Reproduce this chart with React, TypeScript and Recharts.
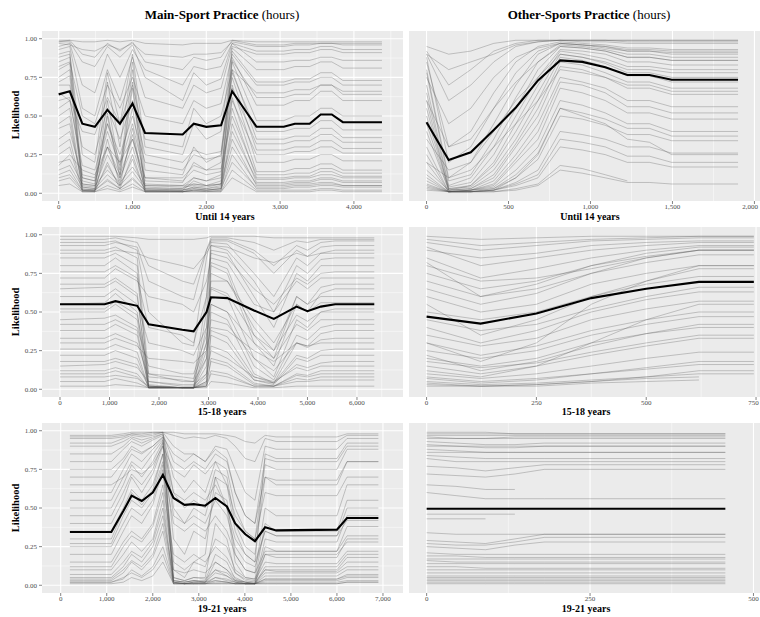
import { CartesianGrid, Line, LineChart, XAxis, YAxis } from "recharts";

// ---- Main-Sport, until 14 years ----
const mainU14X = [0, 150, 320, 490, 660, 830, 1000, 1170, 1680, 1830, 2000, 2200, 2350, 2680, 3050, 3200, 3400, 3550, 3700, 3850, 4380];
const mainU14Mean = [0.64, 0.66, 0.45, 0.43, 0.54, 0.45, 0.58, 0.39, 0.38, 0.45, 0.43, 0.44, 0.66, 0.43, 0.43, 0.45, 0.45, 0.51, 0.51, 0.46, 0.46];
const mainU14Lines = [
  [0.99, 0.99, 0.98, 0.98, 0.99, 0.98, 0.99, 0.97, 0.96, 0.97, 0.97, 0.97, 0.99, 0.98, 0.98, 0.98, 0.98, 0.98, 0.98, 0.98, 0.98],
  [0.97, 0.96, 0.93, 0.92, 0.96, 0.93, 0.97, 0.9, 0.88, 0.9, 0.9, 0.91, 0.98, 0.95, 0.95, 0.96, 0.96, 0.97, 0.97, 0.96, 0.96],
  [0.93, 0.95, 0.55, 0.5, 0.8, 0.6, 0.88, 0.62, 0.55, 0.7, 0.65, 0.68, 0.95, 0.9, 0.9, 0.91, 0.91, 0.93, 0.93, 0.91, 0.91],
  [0.9, 0.92, 0.1, 0.08, 0.72, 0.3, 0.85, 0.15, 0.12, 0.3, 0.2, 0.25, 0.92, 0.72, 0.72, 0.74, 0.74, 0.78, 0.78, 0.73, 0.73],
  [0.85, 0.88, 0.06, 0.05, 0.6, 0.15, 0.8, 0.08, 0.07, 0.2, 0.15, 0.2, 0.88, 0.57, 0.57, 0.6, 0.6, 0.66, 0.66, 0.6, 0.6],
  [0.8, 0.84, 0.04, 0.03, 0.5, 0.1, 0.68, 0.03, 0.03, 0.1, 0.08, 0.12, 0.85, 0.47, 0.47, 0.5, 0.5, 0.55, 0.55, 0.5, 0.5],
  [0.75, 0.8, 0.08, 0.06, 0.45, 0.2, 0.55, 0.05, 0.04, 0.05, 0.04, 0.06, 0.8, 0.35, 0.35, 0.37, 0.37, 0.42, 0.42, 0.36, 0.36],
  [0.7, 0.7, 0.3, 0.25, 0.55, 0.35, 0.6, 0.25, 0.2, 0.28, 0.25, 0.27, 0.75, 0.28, 0.28, 0.3, 0.3, 0.34, 0.34, 0.29, 0.29],
  [0.6, 0.62, 0.12, 0.1, 0.4, 0.18, 0.45, 0.1, 0.08, 0.15, 0.12, 0.14, 0.7, 0.2, 0.2, 0.22, 0.22, 0.25, 0.25, 0.21, 0.21],
  [0.5, 0.55, 0.03, 0.02, 0.3, 0.08, 0.38, 0.02, 0.02, 0.04, 0.03, 0.05, 0.62, 0.14, 0.14, 0.16, 0.16, 0.19, 0.19, 0.15, 0.15],
  [0.42, 0.45, 0.05, 0.04, 0.25, 0.1, 0.3, 0.04, 0.03, 0.06, 0.05, 0.06, 0.55, 0.1, 0.1, 0.11, 0.11, 0.14, 0.14, 0.11, 0.11],
  [0.3, 0.35, 0.02, 0.02, 0.18, 0.05, 0.22, 0.01, 0.01, 0.02, 0.02, 0.03, 0.45, 0.07, 0.07, 0.08, 0.08, 0.1, 0.1, 0.08, 0.08],
  [0.2, 0.22, 0.06, 0.05, 0.15, 0.07, 0.17, 0.05, 0.05, 0.06, 0.05, 0.06, 0.35, 0.05, 0.05, 0.06, 0.06, 0.07, 0.07, 0.05, 0.05],
  [0.12, 0.15, 0.02, 0.02, 0.09, 0.03, 0.1, 0.02, 0.01, 0.02, 0.02, 0.02, 0.25, 0.03, 0.03, 0.04, 0.04, 0.05, 0.05, 0.04, 0.04],
  [0.08, 0.1, 0.01, 0.01, 0.05, 0.02, 0.06, 0.01, 0.01, 0.01, 0.01, 0.01, 0.15, 0.02, 0.02, 0.02, 0.02, 0.03, 0.03, 0.02, 0.02],
  [0.95, 0.97, 0.7, 0.65, 0.9, 0.75, 0.93, 0.8, 0.7, 0.82, 0.8, 0.82, 0.97, 0.85, 0.85, 0.86, 0.86, 0.88, 0.88, 0.86, 0.86],
  [0.65, 0.6, 0.4, 0.38, 0.62, 0.45, 0.7, 0.35, 0.3, 0.55, 0.45, 0.5, 0.8, 0.65, 0.65, 0.67, 0.67, 0.7, 0.7, 0.66, 0.66],
  [0.18, 0.25, 0.15, 0.12, 0.3, 0.2, 0.35, 0.1, 0.1, 0.18, 0.15, 0.16, 0.5, 0.12, 0.12, 0.13, 0.13, 0.16, 0.16, 0.13, 0.13],
  [0.98, 0.98, 0.85, 0.82, 0.95, 0.88, 0.96, 0.75, 0.6, 0.78, 0.7, 0.74, 0.97, 0.92, 0.92, 0.93, 0.93, 0.95, 0.95, 0.93, 0.93],
  [0.88, 0.9, 0.25, 0.2, 0.78, 0.45, 0.9, 0.3, 0.25, 0.45, 0.35, 0.4, 0.94, 0.8, 0.8, 0.82, 0.82, 0.85, 0.85, 0.81, 0.81],
  [0.72, 0.76, 0.02, 0.02, 0.52, 0.12, 0.72, 0.02, 0.02, 0.08, 0.05, 0.08, 0.86, 0.62, 0.62, 0.64, 0.64, 0.7, 0.7, 0.64, 0.64],
  [0.55, 0.6, 0.18, 0.15, 0.45, 0.25, 0.5, 0.2, 0.15, 0.25, 0.22, 0.24, 0.78, 0.4, 0.4, 0.42, 0.42, 0.47, 0.47, 0.41, 0.41],
  [0.45, 0.5, 0.02, 0.01, 0.35, 0.05, 0.42, 0.01, 0.01, 0.03, 0.02, 0.03, 0.68, 0.32, 0.32, 0.34, 0.34, 0.38, 0.38, 0.33, 0.33],
  [0.35, 0.4, 0.1, 0.08, 0.3, 0.12, 0.35, 0.06, 0.05, 0.1, 0.08, 0.1, 0.6, 0.25, 0.25, 0.27, 0.27, 0.3, 0.3, 0.26, 0.26],
  [0.25, 0.3, 0.01, 0.01, 0.2, 0.03, 0.25, 0.01, 0.01, 0.02, 0.01, 0.02, 0.4, 0.09, 0.09, 0.1, 0.1, 0.12, 0.12, 0.1, 0.1],
  [0.15, 0.18, 0.04, 0.03, 0.12, 0.05, 0.14, 0.03, 0.02, 0.04, 0.03, 0.04, 0.3, 0.06, 0.06, 0.07, 0.07, 0.09, 0.09, 0.07, 0.07],
  [0.1, 0.12, 0.02, 0.02, 0.08, 0.03, 0.09, 0.02, 0.02, 0.03, 0.02, 0.03, 0.2, 0.04, 0.04, 0.05, 0.05, 0.06, 0.06, 0.05, 0.05],
  [0.98, 0.99, 0.9, 0.88, 0.97, 0.92, 0.98, 0.85, 0.8, 0.88, 0.86, 0.88, 0.99, 0.96, 0.96, 0.97, 0.97, 0.97, 0.97, 0.97, 0.97],
  [0.82, 0.85, 0.5, 0.45, 0.7, 0.55, 0.75, 0.5, 0.45, 0.6, 0.55, 0.58, 0.9, 0.7, 0.7, 0.72, 0.72, 0.75, 0.75, 0.7, 0.7],
  [0.05, 0.06, 0.01, 0.01, 0.03, 0.01, 0.04, 0.01, 0.01, 0.01, 0.01, 0.01, 0.1, 0.01, 0.01, 0.01, 0.01, 0.02, 0.02, 0.01, 0.01],
];

// ---- Other-Sports, until 14 years ----
const otherU14X = [0, 135, 270, 410, 545, 680, 815, 950, 1090, 1225, 1360, 1495, 1900];
const otherU14Mean = [0.46, 0.215, 0.265, 0.41, 0.555, 0.73, 0.86, 0.85, 0.815, 0.765, 0.765, 0.735, 0.735];
const otherU14Lines = [
  [0.95, 0.9, 0.92, 0.97, 0.99, 0.99, 0.99, 0.99, 0.99, 0.99, 0.99, 0.99, 0.99],
  [0.9, 0.6, 0.7, 0.85, 0.95, 0.98, 0.99, 0.98, 0.98, 0.97, 0.97, 0.97, 0.97],
  [0.85, 0.3, 0.4, 0.65, 0.85, 0.95, 0.98, 0.97, 0.96, 0.94, 0.94, 0.93, 0.93],
  [0.8, 0.1, 0.2, 0.45, 0.7, 0.9, 0.97, 0.96, 0.94, 0.92, 0.92, 0.9, 0.9],
  [0.7, 0.05, 0.1, 0.3, 0.55, 0.8, 0.95, 0.94, 0.92, 0.88, 0.88, 0.86, 0.86],
  [0.6, 0.02, 0.05, 0.2, 0.45, 0.7, 0.92, 0.9, 0.87, 0.82, 0.82, 0.8, 0.8],
  [0.5, 0.03, 0.04, 0.15, 0.35, 0.6, 0.88, 0.86, 0.82, 0.76, 0.76, 0.72, 0.72],
  [0.4, 0.02, 0.03, 0.1, 0.3, 0.5, 0.82, 0.8, 0.75, 0.68, 0.68, 0.64, 0.64],
  [0.3, 0.01, 0.02, 0.08, 0.25, 0.45, 0.75, 0.72, 0.68, 0.6, 0.6, 0.56, 0.56],
  [0.2, 0.01, 0.02, 0.05, 0.2, 0.35, 0.68, 0.65, 0.6, 0.52, 0.52, 0.48, 0.48],
  [0.15, 0.02, 0.02, 0.04, 0.15, 0.3, 0.6, 0.57, 0.52, 0.45, 0.45, 0.4, 0.4],
  [0.1, 0.01, 0.01, 0.03, 0.1, 0.22, 0.5, 0.48, 0.44, 0.38, 0.38, 0.34, 0.34],
  [0.08, 0.01, 0.01, 0.02, 0.07, 0.15, 0.4, 0.38, 0.35, 0.3, 0.3, 0.26, 0.26],
  [0.05, 0.01, 0.01, 0.02, 0.05, 0.1, 0.3, 0.28, 0.25, 0.2, 0.2, 0.17, 0.17],
  [0.04, 0.01, 0.01, 0.01, 0.03, 0.06, 0.18, 0.16, 0.12, 0.08, null, null, null],
  [0.9, 0.8, 0.85, 0.9, 0.96, 0.98, 0.99, 0.99, 0.99, 0.99, 0.99, 0.99, 0.99],
  [0.75, 0.45, 0.55, 0.75, 0.88, 0.94, 0.97, 0.96, 0.95, 0.93, 0.93, 0.92, 0.92],
  [0.02, 0.01, 0.01, 0.02, 0.1, 0.25, 0.55, 0.5, 0.45, 0.35, 0.33, 0.25, 0.25],
  [0.35, 0.15, 0.2, 0.4, 0.6, 0.75, 0.9, 0.88, 0.85, 0.8, 0.8, 0.78, 0.78],
  [0.92, 0.7, 0.8, 0.92, 0.97, 0.99, 0.99, 0.99, 0.99, 0.98, 0.98, 0.98, 0.98],
  [0.88, 0.2, 0.3, 0.55, 0.78, 0.92, 0.97, 0.96, 0.95, 0.92, 0.92, 0.91, 0.91],
  [0.78, 0.08, 0.12, 0.35, 0.62, 0.85, 0.96, 0.95, 0.93, 0.9, 0.9, 0.88, 0.88],
  [0.65, 0.04, 0.07, 0.25, 0.5, 0.75, 0.93, 0.92, 0.9, 0.85, 0.85, 0.83, 0.83],
  [0.55, 0.03, 0.05, 0.18, 0.4, 0.65, 0.9, 0.88, 0.84, 0.78, 0.78, 0.75, 0.75],
  [0.45, 0.02, 0.03, 0.12, 0.32, 0.55, 0.85, 0.83, 0.78, 0.72, 0.72, 0.68, 0.68],
  [0.25, 0.01, 0.02, 0.06, 0.22, 0.4, 0.72, 0.7, 0.65, 0.56, 0.56, 0.52, 0.52],
  [0.12, 0.01, 0.02, 0.03, 0.12, 0.26, 0.55, 0.52, 0.48, 0.42, 0.42, 0.37, 0.37],
  [0.06, 0.01, 0.01, 0.02, 0.06, 0.12, 0.35, 0.33, 0.3, 0.24, 0.24, 0.2, 0.2],
  [0.03, 0.01, 0.01, 0.01, 0.02, 0.05, 0.15, 0.13, 0.1, 0.07, 0.07, 0.06, 0.06],
  [0.6, 0.3, 0.35, 0.55, 0.72, 0.85, 0.95, 0.94, 0.92, 0.88, 0.88, 0.86, 0.86],
  [0.2, 0.1, 0.15, 0.3, 0.45, 0.6, 0.8, 0.78, 0.75, 0.7, 0.7, 0.66, 0.66],
];

// ---- Main-Sport, 15-18 years ----
const main1518X = [0, 900, 1120, 1560, 1790, 2470, 2700, 2960, 3050, 3380, 3920, 4320, 4780, 5000, 5270, 5560, 6350];
const main1518Mean = [0.55, 0.55, 0.57, 0.54, 0.42, 0.385, 0.375, 0.5, 0.595, 0.59, 0.51, 0.455, 0.535, 0.505, 0.535, 0.55, 0.55];
const main1518Lines = [
  [0.99, 0.99, 0.99, 0.98, 0.97, 0.97, 0.97, 0.98, 0.99, 0.99, 0.99, 0.98, 0.98, 0.98, 0.98, 0.98, 0.98],
  [0.95, 0.95, 0.96, 0.9, 0.5, 0.3, 0.28, 0.85, 0.97, 0.97, 0.9, 0.8, 0.93, 0.9, 0.95, 0.96, 0.96],
  [0.9, 0.9, 0.92, 0.85, 0.1, 0.05, 0.05, 0.6, 0.95, 0.94, 0.75, 0.6, 0.85, 0.8, 0.88, 0.9, 0.9],
  [0.8, 0.8, 0.85, 0.75, 0.05, 0.02, 0.02, 0.4, 0.9, 0.88, 0.6, 0.4, 0.75, 0.7, 0.8, 0.8, 0.8],
  [0.72, 0.72, 0.78, 0.7, 0.6, 0.55, 0.5, 0.7, 0.85, 0.82, 0.55, 0.5, 0.7, 0.65, 0.72, 0.72, 0.72],
  [0.65, 0.66, 0.7, 0.6, 0.03, 0.01, 0.01, 0.3, 0.8, 0.75, 0.3, 0.15, 0.55, 0.5, 0.62, 0.65, 0.65],
  [0.6, 0.6, 0.65, 0.55, 0.3, 0.25, 0.22, 0.4, 0.7, 0.7, 0.4, 0.25, 0.6, 0.55, 0.6, 0.6, 0.6],
  [0.5, 0.5, 0.55, 0.45, 0.02, 0.01, 0.01, 0.2, 0.65, 0.6, 0.2, 0.08, 0.45, 0.4, 0.5, 0.5, 0.5],
  [0.45, 0.46, 0.48, 0.4, 0.15, 0.1, 0.1, 0.35, 0.55, 0.5, 0.3, 0.2, 0.42, 0.38, 0.45, 0.45, 0.45],
  [0.38, 0.38, 0.42, 0.35, 0.02, 0.01, 0.01, 0.1, 0.5, 0.45, 0.1, 0.04, 0.3, 0.28, 0.36, 0.38, 0.38],
  [0.3, 0.3, 0.33, 0.28, 0.2, 0.18, 0.17, 0.25, 0.4, 0.38, 0.25, 0.18, 0.3, 0.28, 0.3, 0.3, 0.3],
  [0.22, 0.22, 0.25, 0.2, 0.01, 0.01, 0.01, 0.05, 0.35, 0.3, 0.06, 0.03, 0.2, 0.18, 0.22, 0.22, 0.22],
  [0.15, 0.16, 0.18, 0.14, 0.05, 0.03, 0.03, 0.1, 0.25, 0.2, 0.08, 0.05, 0.14, 0.12, 0.15, 0.15, 0.15],
  [0.1, 0.1, 0.12, 0.08, 0.01, 0.01, 0.01, 0.03, 0.18, 0.15, 0.03, 0.02, 0.09, 0.08, 0.1, 0.1, 0.1],
  [0.05, 0.05, 0.07, 0.04, 0.01, 0.01, 0.01, 0.02, 0.1, 0.08, 0.02, 0.02, 0.05, 0.05, 0.06, 0.06, 0.06],
  [0.02, 0.02, 0.03, 0.02, 0.01, 0.01, 0.01, 0.01, 0.05, 0.04, 0.01, 0.01, 0.02, 0.02, 0.02, 0.02, 0.02],
  [0.88, 0.88, 0.9, 0.88, 0.85, 0.8, 0.78, 0.88, 0.93, 0.92, 0.85, 0.82, 0.88, 0.86, 0.88, 0.88, 0.88],
  [0.55, 0.56, 0.62, 0.5, 0.01, 0.01, 0.01, 0.15, 0.75, 0.7, 0.45, 0.3, 0.55, 0.5, 0.56, 0.56, 0.56],
  [0.97, 0.97, 0.98, 0.95, 0.8, 0.7, 0.68, 0.9, 0.98, 0.98, 0.95, 0.9, 0.96, 0.95, 0.97, 0.97, 0.97],
  [0.85, 0.85, 0.88, 0.8, 0.02, 0.01, 0.01, 0.5, 0.93, 0.9, 0.7, 0.5, 0.8, 0.75, 0.84, 0.85, 0.85],
  [0.76, 0.76, 0.8, 0.72, 0.4, 0.35, 0.3, 0.6, 0.88, 0.85, 0.65, 0.55, 0.72, 0.68, 0.75, 0.76, 0.76],
  [0.68, 0.68, 0.72, 0.62, 0.01, 0.01, 0.01, 0.25, 0.82, 0.78, 0.35, 0.2, 0.6, 0.55, 0.66, 0.68, 0.68],
  [0.52, 0.52, 0.57, 0.48, 0.1, 0.08, 0.07, 0.3, 0.66, 0.62, 0.35, 0.25, 0.48, 0.44, 0.5, 0.52, 0.52],
  [0.42, 0.42, 0.45, 0.38, 0.01, 0.01, 0.01, 0.08, 0.55, 0.5, 0.15, 0.06, 0.35, 0.32, 0.4, 0.42, 0.42],
  [0.33, 0.33, 0.36, 0.3, 0.08, 0.06, 0.05, 0.2, 0.45, 0.42, 0.2, 0.12, 0.3, 0.27, 0.32, 0.33, 0.33],
  [0.26, 0.26, 0.29, 0.24, 0.01, 0.01, 0.01, 0.04, 0.38, 0.34, 0.08, 0.04, 0.22, 0.2, 0.25, 0.26, 0.26],
  [0.18, 0.18, 0.2, 0.16, 0.02, 0.01, 0.01, 0.05, 0.28, 0.24, 0.06, 0.04, 0.16, 0.14, 0.17, 0.18, 0.18],
  [0.12, 0.12, 0.14, 0.1, 0.01, 0.01, 0.01, 0.02, 0.2, 0.17, 0.04, 0.02, 0.1, 0.09, 0.12, 0.12, 0.12],
  [0.08, 0.08, 0.09, 0.07, 0.02, 0.01, 0.01, 0.02, 0.12, 0.1, 0.02, 0.02, 0.07, 0.06, 0.08, 0.08, 0.08],
  [0.93, 0.93, 0.95, 0.92, 0.7, 0.6, 0.58, 0.9, 0.96, 0.96, 0.88, 0.75, 0.9, 0.86, 0.92, 0.93, 0.93],
];

// ---- Other-Sports, 15-18 years ----
const other1518X = [0, 123, 250, 375, 500, 620, 745];
const other1518Mean = [0.47, 0.425, 0.49, 0.59, 0.65, 0.695, 0.695];
const other1518Lines = [
  [0.99, 0.97, 0.98, 0.99, 0.99, 0.99, 0.99],
  [0.95, 0.9, 0.93, 0.96, 0.97, 0.98, 0.98],
  [0.9, 0.85, 0.88, 0.93, 0.95, 0.96, 0.96],
  [0.85, 0.72, 0.78, 0.85, 0.9, 0.93, 0.93],
  [0.8, 0.7, 0.72, 0.78, 0.85, 0.9, 0.9],
  [0.7, 0.6, 0.65, 0.75, 0.82, 0.87, 0.87],
  [0.6, 0.5, 0.55, 0.68, 0.75, 0.8, 0.8],
  [0.5, 0.45, 0.5, 0.6, 0.68, 0.73, 0.73],
  [0.4, 0.3, 0.38, 0.5, 0.58, 0.63, 0.63],
  [0.35, 0.28, 0.33, 0.45, 0.52, 0.57, 0.57],
  [0.25, 0.2, 0.25, 0.35, 0.42, 0.47, 0.47],
  [0.2, 0.15, 0.2, 0.3, 0.36, 0.4, 0.4],
  [0.15, 0.1, 0.15, 0.22, 0.28, 0.33, 0.33],
  [0.1, 0.07, 0.1, 0.15, 0.2, 0.24, 0.24],
  [0.08, 0.05, 0.07, 0.1, 0.13, 0.16, 0.16],
  [0.05, 0.03, 0.04, 0.06, 0.08, 0.1, 0.1],
  [0.02, 0.02, 0.02, 0.04, 0.05, 0.06, null],
  [0.3, 0.18, 0.3, 0.55, 0.7, 0.8, 0.8],
  [0.12, 0.08, 0.15, 0.3, 0.45, 0.55, 0.55],
  [0.65, 0.55, 0.62, 0.75, 0.85, 0.9, 0.9],
  [0.97, 0.93, 0.95, 0.97, 0.98, 0.99, 0.99],
  [0.92, 0.8, 0.85, 0.9, 0.93, 0.95, 0.95],
  [0.82, 0.6, 0.68, 0.8, 0.88, 0.92, 0.92],
  [0.75, 0.65, 0.7, 0.8, 0.86, 0.9, 0.9],
  [0.55, 0.35, 0.45, 0.6, 0.7, 0.78, 0.78],
  [0.45, 0.38, 0.42, 0.52, 0.6, 0.66, 0.66],
  [0.3, 0.22, 0.28, 0.38, 0.45, 0.5, 0.5],
  [0.22, 0.12, 0.18, 0.28, 0.36, 0.42, 0.42],
  [0.18, 0.14, 0.17, 0.24, 0.3, 0.35, 0.35],
  [0.07, 0.04, 0.06, 0.1, 0.14, 0.18, 0.18],
  [0.04, 0.02, 0.03, 0.05, 0.07, 0.08, null],
  [0.03, 0.02, 0.03, 0.05, 0.08, 0.12, 0.12],
];

// ---- Main-Sport, 19-21 years ----
const main1921X = [200, 1100, 1360, 1540, 1760, 2000, 2220, 2450, 2690, 2890, 3140, 3360, 3610, 3790, 4010, 4220, 4440, 4680, 6000, 6220, 6900];
const main1921Mean = [0.345, 0.345, 0.48, 0.58, 0.545, 0.6, 0.715, 0.565, 0.52, 0.525, 0.515, 0.565, 0.51, 0.4, 0.33, 0.285, 0.375, 0.355, 0.36, 0.435, 0.435];
const main1921Lines = [
  [0.97, 0.97, 0.98, 0.99, 0.99, 0.99, 0.99, 0.99, 0.98, 0.98, 0.98, 0.98, 0.97, 0.96, 0.93, 0.92, 0.97, 0.96, 0.96, 0.98, 0.98],
  [0.95, 0.95, 0.96, 0.98, 0.97, 0.98, 0.99, 0.9, 0.85, 0.85, 0.8, 0.9, 0.88, 0.75, 0.6, 0.55, 0.9, 0.88, 0.88, 0.95, 0.95],
  [0.8, 0.8, 0.88, 0.93, 0.9, 0.94, 0.97, 0.6, 0.5, 0.55, 0.5, 0.75, 0.7, 0.4, 0.25, 0.2, 0.7, 0.65, 0.65, 0.8, 0.8],
  [0.7, 0.7, 0.8, 0.88, 0.85, 0.9, 0.96, 0.3, 0.2, 0.35, 0.3, 0.6, 0.55, 0.2, 0.1, 0.08, 0.5, 0.45, 0.45, 0.65, 0.65],
  [0.6, 0.6, 0.75, 0.85, 0.8, 0.88, 0.95, 0.1, 0.05, 0.15, 0.2, 0.7, 0.5, 0.15, 0.05, 0.04, 0.4, 0.35, 0.35, 0.55, 0.55],
  [0.5, 0.5, 0.65, 0.78, 0.7, 0.8, 0.93, 0.05, 0.03, 0.05, 0.05, 0.4, 0.3, 0.08, 0.03, 0.02, 0.3, 0.28, 0.28, 0.45, 0.45],
  [0.4, 0.4, 0.55, 0.7, 0.6, 0.72, 0.9, 0.6, 0.55, 0.6, 0.55, 0.65, 0.5, 0.3, 0.2, 0.15, 0.35, 0.32, 0.32, 0.42, 0.42],
  [0.35, 0.35, 0.5, 0.62, 0.55, 0.65, 0.85, 0.03, 0.02, 0.03, 0.03, 0.2, 0.15, 0.04, 0.02, 0.01, 0.2, 0.18, 0.18, 0.3, 0.3],
  [0.27, 0.27, 0.45, 0.55, 0.5, 0.6, 0.8, 0.4, 0.35, 0.4, 0.35, 0.45, 0.35, 0.2, 0.1, 0.08, 0.22, 0.22, 0.22, 0.32, 0.32],
  [0.2, 0.2, 0.35, 0.45, 0.4, 0.52, 0.75, 0.02, 0.01, 0.02, 0.02, 0.1, 0.08, 0.03, 0.02, 0.01, 0.12, 0.12, 0.12, 0.2, 0.2],
  [0.15, 0.15, 0.28, 0.35, 0.3, 0.4, 0.65, 0.2, 0.15, 0.2, 0.15, 0.25, 0.18, 0.08, 0.04, 0.03, 0.15, 0.14, 0.14, 0.22, 0.22],
  [0.1, 0.1, 0.2, 0.28, 0.22, 0.3, 0.55, 0.02, 0.01, 0.01, 0.01, 0.05, 0.04, 0.02, 0.01, 0.01, 0.08, 0.08, 0.08, 0.12, 0.12],
  [0.05, 0.05, 0.12, 0.2, 0.15, 0.25, 0.45, 0.05, 0.03, 0.05, 0.04, 0.1, 0.06, 0.03, 0.02, 0.01, 0.06, 0.06, 0.06, 0.1, 0.1],
  [0.03, 0.03, 0.08, 0.15, 0.1, 0.18, 0.35, 0.01, 0.01, 0.01, 0.01, 0.02, 0.02, 0.01, 0.01, 0.01, 0.03, 0.03, 0.03, 0.05, 0.05],
  [0.02, 0.02, 0.04, 0.1, 0.06, 0.12, 0.25, 0.02, 0.01, 0.02, 0.02, 0.03, 0.02, 0.01, 0.01, 0.01, 0.02, 0.02, 0.02, 0.03, 0.03],
  [0.01, 0.01, 0.02, 0.05, 0.03, 0.06, 0.15, 0.01, 0.01, 0.01, 0.01, 0.01, 0.01, 0.01, 0.01, 0.01, 0.01, 0.01, 0.01, 0.02, 0.02],
  [0.9, 0.9, 0.93, 0.96, 0.94, 0.96, 0.98, 0.8, 0.75, 0.8, 0.75, 0.85, 0.8, 0.6, 0.45, 0.4, 0.82, 0.8, 0.8, 0.9, 0.9],
  [0.65, 0.65, 0.7, 0.75, 0.72, 0.78, 0.9, 0.75, 0.7, 0.78, 0.72, 0.8, 0.65, 0.45, 0.35, 0.3, 0.6, 0.58, 0.58, 0.7, 0.7],
  [0.96, 0.96, 0.97, 0.98, 0.98, 0.99, 0.99, 0.97, 0.95, 0.96, 0.95, 0.97, 0.95, 0.9, 0.82, 0.8, 0.95, 0.93, 0.93, 0.97, 0.97],
  [0.85, 0.85, 0.9, 0.95, 0.92, 0.95, 0.98, 0.7, 0.6, 0.68, 0.6, 0.8, 0.75, 0.5, 0.35, 0.3, 0.78, 0.75, 0.75, 0.88, 0.88],
  [0.55, 0.55, 0.7, 0.8, 0.75, 0.85, 0.94, 0.45, 0.4, 0.45, 0.4, 0.55, 0.45, 0.25, 0.15, 0.12, 0.35, 0.32, 0.32, 0.5, 0.5],
  [0.45, 0.45, 0.6, 0.72, 0.65, 0.75, 0.92, 0.02, 0.01, 0.02, 0.02, 0.15, 0.1, 0.03, 0.01, 0.01, 0.25, 0.22, 0.22, 0.38, 0.38],
  [0.3, 0.3, 0.48, 0.6, 0.52, 0.62, 0.85, 0.15, 0.1, 0.15, 0.12, 0.3, 0.25, 0.1, 0.05, 0.04, 0.2, 0.2, 0.2, 0.28, 0.28],
  [0.25, 0.25, 0.4, 0.5, 0.45, 0.55, 0.78, 0.03, 0.02, 0.03, 0.02, 0.08, 0.06, 0.02, 0.01, 0.01, 0.1, 0.1, 0.1, 0.18, 0.18],
  [0.12, 0.12, 0.25, 0.32, 0.28, 0.38, 0.6, 0.1, 0.08, 0.1, 0.08, 0.15, 0.1, 0.05, 0.02, 0.02, 0.1, 0.09, 0.09, 0.15, 0.15],
  [0.07, 0.07, 0.15, 0.22, 0.18, 0.28, 0.5, 0.01, 0.01, 0.01, 0.01, 0.03, 0.02, 0.01, 0.01, 0.01, 0.04, 0.04, 0.04, 0.07, 0.07],
  [0.04, 0.04, 0.1, 0.16, 0.12, 0.2, 0.4, 0.03, 0.02, 0.03, 0.02, 0.05, 0.03, 0.02, 0.01, 0.01, 0.04, 0.04, 0.04, 0.06, 0.06],
  [0.02, 0.02, 0.05, 0.08, 0.05, 0.1, 0.2, 0.01, 0.01, 0.01, 0.01, 0.01, 0.01, 0.01, 0.01, 0.01, 0.01, 0.01, 0.01, 0.02, 0.02],
  [0.75, 0.75, 0.82, 0.9, 0.86, 0.9, 0.96, 0.85, 0.8, 0.85, 0.8, 0.88, 0.82, 0.6, 0.45, 0.4, 0.7, 0.68, 0.68, 0.8, 0.8],
  [0.92, 0.92, 0.95, 0.97, 0.96, 0.97, 0.99, 0.5, 0.4, 0.5, 0.45, 0.7, 0.65, 0.35, 0.2, 0.15, 0.85, 0.82, 0.82, 0.92, 0.92],
];

// ---- Other-Sports, 19-21 years ----
const other1921X = [0, 45, 90, 135, 180, 457];
const other1921Mean = [0.495, 0.495, 0.495, 0.495, 0.495, 0.495];
const other1921Lines = [
  [0.99, 0.99, 0.99, 0.98, 0.98, 0.98],
  [0.97, 0.97, 0.97, 0.97, 0.97, 0.97],
  [0.95, 0.95, 0.95, 0.95, 0.95, 0.95],
  [0.93, 0.92, 0.91, 0.91, 0.92, 0.92],
  [0.9, 0.9, 0.9, 0.9, 0.9, 0.9],
  [0.86, 0.86, 0.86, 0.86, 0.86, 0.86],
  [0.82, 0.8, 0.8, 0.8, 0.8, 0.8],
  [0.77, 0.76, 0.74, 0.76, 0.78, 0.78],
  [0.72, 0.71, 0.7, 0.72, 0.75, 0.75],
  [0.6, 0.58, 0.56, 0.56, 0.56, 0.56],
  [0.46, 0.46, 0.46, 0.46, null, null],
  [0.34, 0.33, 0.33, 0.33, 0.33, 0.33],
  [0.27, 0.26, 0.26, 0.28, 0.31, 0.31],
  [0.25, 0.24, 0.23, 0.26, 0.28, 0.28],
  [0.21, 0.2, 0.2, 0.2, 0.2, 0.2],
  [0.17, 0.17, 0.17, 0.17, 0.17, 0.17],
  [0.14, 0.14, 0.14, 0.14, 0.14, 0.14],
  [0.12, 0.12, 0.11, 0.11, 0.11, 0.11],
  [0.08, 0.08, 0.08, 0.08, 0.08, 0.08],
  [0.05, 0.05, 0.05, 0.05, 0.05, 0.05],
  [0.03, 0.03, 0.03, 0.03, 0.03, 0.03],
  [0.01, 0.01, 0.01, 0.01, 0.01, 0.01],
  [0.98, 0.98, 0.98, 0.98, 0.98, 0.98],
  [0.96, 0.95, 0.95, 0.96, 0.96, 0.96],
  [0.91, 0.9, 0.89, 0.89, 0.9, 0.9],
  [0.88, 0.87, 0.86, 0.86, 0.86, 0.86],
  [0.84, 0.83, 0.82, 0.82, 0.82, 0.82],
  [0.65, 0.64, 0.62, 0.62, null, null],
  [0.43, 0.43, 0.43, null, null, null],
  [0.29, 0.28, 0.27, 0.3, 0.33, 0.33],
  [0.19, 0.19, 0.18, 0.18, 0.18, 0.18],
  [0.16, 0.15, 0.15, 0.15, 0.15, 0.15],
  [0.1, 0.1, 0.1, 0.1, 0.1, 0.1],
  [0.06, 0.06, 0.06, 0.06, 0.06, 0.06],
  [0.04, 0.04, 0.04, 0.04, 0.04, 0.04],
  [0.02, 0.02, 0.02, 0.02, 0.02, 0.02],
];

const yTicks = [0, 0.25, 0.5, 0.75, 1];
const yMinor = [0.125, 0.375, 0.625, 0.875];

const font = '"Liberation Serif", "Times New Roman", serif';

const buildRows = (xs: number[], mean: number[], lines: (number | null)[][]) =>
  xs.map((x, i) => {
    const row: Record<string, number | null> = { x, m: mean[i] };
    lines.forEach((l, j) => {
      row["g" + j] = l[i];
    });
    return row;
  });

const midpoints = (ticks: number[], domain: [number, number]) => {
  const step = ticks[1] - ticks[0];
  const out: number[] = [];
  for (let v = ticks[0] - step / 2; v < domain[1]; v += step) {
    if (v > domain[0]) out.push(v);
  }
  return out;
};

interface PanelProps {
  left: number;
  top: number;
  width: number;
  yw: number;
  domain: [number, number];
  xTicks: number[];
  xs: number[];
  mean: number[];
  lines: (number | null)[][];
  showY: boolean;
}

const PLOT_H = 170;
const XAXIS_H = 16;

// x tick label; the last one is pulled inside the chart edge
const makeXTick = (chartW: number) => (props: any) => {
  const { x, y, payload } = props;
  const label = Number(payload.value).toLocaleString("en-US");
  const halfW = label.length * 1.8;
  const tx = x + halfW > chartW - 1 ? chartW - 1 - halfW : x;
  return (
    <text x={tx} y={y} dy="0.71em" textAnchor="middle" fontSize={7} fill="#4D4D4D" fontFamily={font}>
      {label}
    </text>
  );
};

const Panel = ({ left, top, width, yw, domain, xTicks, xs, mean, lines, showY }: PanelProps) => {
  const data = buildRows(xs, mean, lines);
  const xMinor = midpoints(xTicks, domain);
  return (
    <div style={{ position: "absolute", left, top }}>
      <LineChart width={width} height={PLOT_H + XAXIS_H} data={data} margin={{ top: 0, right: 0, bottom: 0, left: 0 }}>
        <CartesianGrid fill="#EBEBEB" stroke="#ffffff" strokeWidth={0.5} verticalValues={xMinor} horizontalValues={yMinor} />
        <CartesianGrid stroke="#ffffff" strokeWidth={1.1} verticalValues={xTicks} horizontalValues={yTicks} />
        <XAxis
          type="number"
          dataKey="x"
          domain={domain}
          ticks={xTicks}
          allowDataOverflow
          interval={0}
          height={XAXIS_H}
          axisLine={false}
          tickSize={3}
          tickMargin={0}
          tickLine={{ stroke: "#333333", strokeWidth: 0.6 }}
          tick={makeXTick(width)}
        />
        <YAxis
          type="number"
          domain={[-0.05, 1.05]}
          ticks={yTicks}
          allowDataOverflow
          width={yw}
          axisLine={false}
          tickSize={3}
          tickMargin={2}
          tickLine={{ stroke: "#333333", strokeWidth: 0.6 }}
          tick={showY ? { fontSize: 7, fill: "#4D4D4D", fontFamily: font } : false}
          tickFormatter={(v: number) => v.toFixed(2)}
        />
        {lines.map((_, j) => (
          <Line
            key={j}
            type="linear"
            dataKey={"g" + j}
            stroke="#505050"
            strokeOpacity={0.5}
            strokeWidth={0.6}
            dot={false}
            activeDot={false}
            isAnimationActive={false}
          />
        ))}
        <Line type="linear" dataKey="m" stroke="#000000" strokeWidth={2.1} dot={false} activeDot={false} isAnimationActive={false} />
      </LineChart>
    </div>
  );
};

const Text = ({ x, y, size, bold, children }: { x: number; y: number; size: number; bold?: boolean; children: React.ReactNode }) => (
  <div
    style={{
      position: "absolute",
      left: x - 150,
      top: y - size * 0.6,
      width: 300,
      textAlign: "center",
      fontSize: size,
      fontWeight: bold ? "bold" : "normal",
      fontFamily: font,
      lineHeight: "1.2",
      color: "#000",
      whiteSpace: "nowrap",
    }}
  >
    {children}
  </div>
);

const LeftW = 403;
const RightL = 398;
const RightW = 362;

export default function App() {
  return (
    <div style={{ position: "absolute", left: 0, top: 0, width: 760, height: 617, background: "#fff", overflow: "hidden" }}>
      <Text x={222} y={15} size={13}>
        <b>Main-Sport Practice</b> (hours)
      </Text>
      <Text x={589} y={15} size={13}>
        <b>Other-Sports Practice</b> (hours)
      </Text>

      <Panel left={0} top={31} width={LeftW} yw={42} domain={[-226, 4665]} xTicks={[0, 1000, 2000, 3000, 4000]} xs={mainU14X} mean={mainU14Mean} lines={mainU14Lines} showY />
      <Panel left={RightL} top={31} width={RightW} yw={11} domain={[-107, 2034]} xTicks={[0, 500, 1000, 1500, 2000]} xs={otherU14X} mean={otherU14Mean} lines={otherU14Lines} showY={false} />

      <Panel left={0} top={227} width={LeftW} yw={42} domain={[-364, 6930]} xTicks={[0, 1000, 2000, 3000, 4000, 5000, 6000]} xs={main1518X} mean={main1518Mean} lines={main1518Lines} showY />
      <Panel left={RightL} top={227} width={RightW} yw={11} domain={[-40, 759]} xTicks={[0, 250, 500, 750]} xs={other1518X} mean={other1518Mean} lines={other1518Lines} showY={false} />

      <Panel left={0} top={423} width={LeftW} yw={42} domain={[-406, 7435]} xTicks={[0, 1000, 2000, 3000, 4000, 5000, 6000, 7000]} xs={main1921X} mean={main1921Mean} lines={main1921Lines} showY />
      <Panel left={RightL} top={423} width={RightW} yw={11} domain={[-27, 510]} xTicks={[0, 250, 500]} xs={other1921X} mean={other1921Mean} lines={other1921Lines} showY={false} />

      <Text x={225} y={217} size={10} bold>Until 14 years</Text>
      <Text x={590} y={217} size={10} bold>Until 14 years</Text>
      <Text x={222} y={412} size={10} bold>15-18 years</Text>
      <Text x={586} y={412} size={10} bold>15-18 years</Text>
      <Text x={222} y={609} size={10} bold>19-21 years</Text>
      <Text x={586} y={609} size={10} bold>19-21 years</Text>

      {[115, 312, 508].map((cy) => (
        <div
          key={cy}
          style={{
            position: "absolute",
            left: 16 - 40,
            top: cy - 7,
            width: 80,
            height: 14,
            textAlign: "center",
            fontSize: 10.5,
            fontWeight: "bold",
            fontFamily: font,
            lineHeight: "14px",
            transform: "rotate(-90deg)",
          }}
        >
          Likelihood
        </div>
      ))}
    </div>
  );
}
